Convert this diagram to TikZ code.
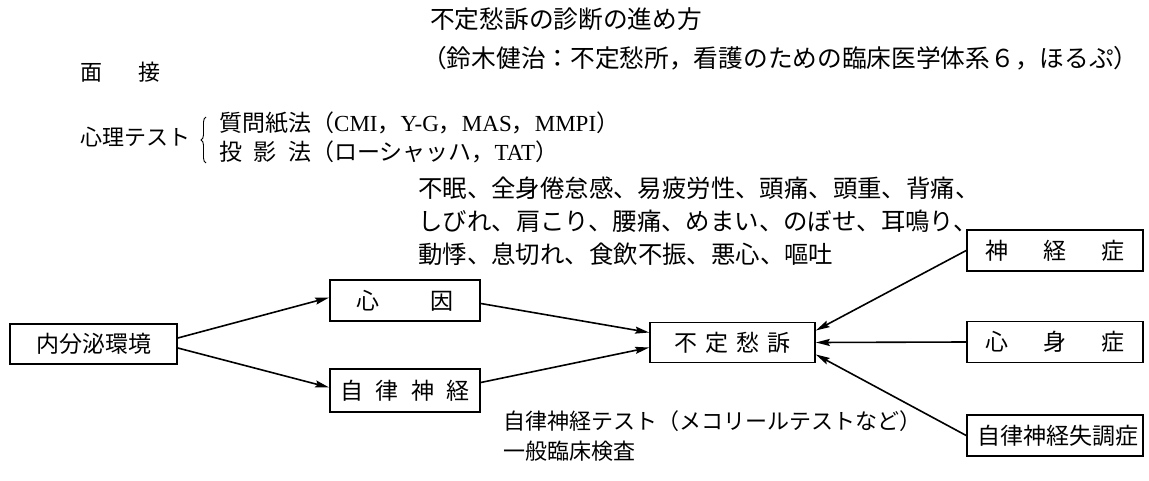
\documentclass[tikz,border=0pt]{standalone}
\usepackage{fontspec}
\newfontfamily\jpfont{Noto Sans CJK JP}
\newfontfamily\latfont{Liberation Serif}
\usetikzlibrary{arrows.meta,decorations.pathreplacing}
\newcommand\latn[1]{{\latfont #1}}
\newcommand\jsz[1]{\fontsize{#1}{#1}\selectfont}
\begin{document}
\begin{tikzpicture}[x=1pt,y=-1pt,
  box/.style={draw, line width=1.6pt, inner sep=0pt, minimum height=41pt, font=\jpfont\jsz{23}},
  arr/.style={-{Stealth[length=14pt,width=7pt,inset=2pt]}, line width=1.6pt},
  txt/.style={anchor=west, inner sep=0pt, font=\jpfont\jsz{23}},
  bigtxt/.style={anchor=west, inner sep=0pt, font=\jpfont\jsz{24.4}}
]
\path[use as bounding box] (0,0) rectangle (1149,481);

% header texts
\node[bigtxt, font=\jpfont\jsz{24.7}] (title) at (430,19) {不定愁訴の診断の進め方};
\node[bigtxt, font=\jpfont\jsz{24.7}] (src) at (422,58) {（鈴木健治：不定愁所，看護のための臨床医学体系６，ほるぷ）};
\node[txt, font=\jpfont\jsz{22}] (mensetsu) at (80,72) {面\hspace{36pt}接};
\node[txt, font=\jpfont\jsz{22}] (shinri) at (80,137) {心理テスト};
\coordinate (brb) at (206,163);
\coordinate (brt) at (206,117);
\draw[line width=0.9pt, decorate, decoration={brace, amplitude=5pt}] (brb) -- (brt);
\node[txt] (q1) at (219,123) {質問紙法（\latn{CMI}，\latn{Y-G}，\latn{MAS}，\latn{MMPI}）};
\node[txt] (q2) at (219,152) {\hbox to 92pt{投\hfil 影\hfil 法}（ローシャッハ，\latn{TAT}）};

% symptoms
\node[bigtxt] (s1) at (418,188) {不眠、全身倦怠感、易疲労性、頭痛、頭重、背痛、};
\node[bigtxt] (s2) at (418,221) {しびれ、肩こり、腰痛、めまい、のぼせ、耳鳴り、};
\node[bigtxt] (s3) at (418,254) {動悸、息切れ、食飲不振、悪心、嘔吐};

% boxes
\node[box, minimum width=167pt, minimum height=40pt] (endo) at (93.5,344) {内分泌環境};
\node[box, minimum width=150pt] (shinin) at (405,300.5) {\hbox to 98pt{心\hfil 因}};
\node[box, minimum width=150pt, minimum height=43pt] (jiritsu) at (405,390.5) {\hbox to 130pt{自\hfil 律\hfil 神\hfil 経}};
\node[box, minimum width=165pt, minimum height=40pt] (futei) at (732.5,342.5) {\hbox to 116pt{不\hfil 定\hfil 愁\hfil 訴}};
\node[box, minimum width=176pt] (shinkei) at (1055,250.5) {\hbox to 140pt{神\hfil 経\hfil 症}};
\node[box, minimum width=176pt] (shinshin) at (1055,342) {\hbox to 140pt{心\hfil 身\hfil 症}};
\node[box, minimum width=176pt] (jdys) at (1055,435.5) {\hbox to 156pt{自\hfil 律\hfil 神\hfil 経\hfil 失\hfil 調\hfil 症}};

% bottom texts
\node[txt, font=\jpfont\jsz{22}] (b1) at (503,421) {自律神経テスト（メコリールテストなど）};
\node[txt, font=\jpfont\jsz{22}] (b2) at (503,451) {一般臨床検査};

% connectors
\draw[arr] ([yshift=6pt]endo.east) -- ([yshift=3pt]shinin.west);
\draw[arr] ([yshift=-4pt]endo.east) -- ([yshift=3pt]jiritsu.west);
\draw[arr] ([yshift=-3pt]shinin.east) -- ([yshift=10pt]futei.west);
\draw[arr] ([yshift=8pt]jiritsu.east) -- ([yshift=-5pt]futei.west);
\draw[arr] (shinkei.west) -- ([yshift=12pt]futei.east);
\draw[arr] (shinshin.west) -- (futei.east);
\draw[arr] (jdys.west) -- ([yshift=-12pt]futei.east);
\end{tikzpicture}
\end{document}
